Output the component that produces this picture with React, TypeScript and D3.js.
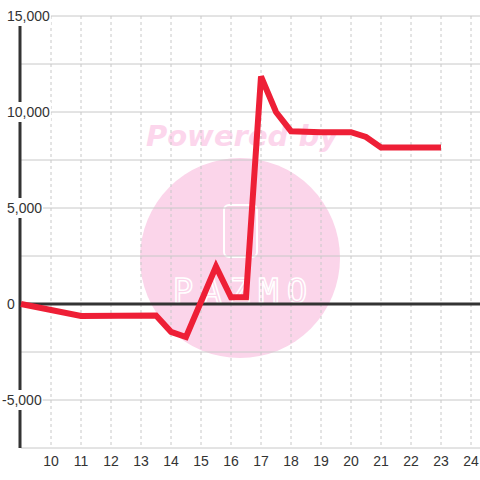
import React from "react";
import * as d3 from "d3";

const xValues = [9, 11, 13.5, 14, 14.5, 15.5, 16, 16.5, 17, 17.5, 18, 19, 20, 20.5, 21, 23];
const yValues = [0, -620, -600, -1450, -1720, 1950, 350, 350, 11850, 10000, 9000, 8950, 8950, 8700, 8150, 8150];
const xTicks = [10, 11, 12, 13, 14, 15, 16, 17, 18, 19, 20, 21, 22, 23, 24];
const yLabelTicks = [15000, 10000, 5000, 0, -5000];
const yGridTicks = [15000, 12500, 10000, 7500, 5000, 2500, -2500, -5000, -7500];

const W = 480;
const H = 480;

export default function App() {
  const x = d3.scaleLinear().domain([9, 24]).range([21, 471]);
  const y = d3.scaleLinear().domain([-7500, 15000]).range([448, 16]);
  const fmt = d3.format(",");
  const data = xValues.map((v, i) => [v, yValues[i]] as [number, number]);
  const line = d3
    .line<[number, number]>()
    .x((d) => x(d[0]))
    .y((d) => y(d[1]));

  const font = "'Liberation Sans', Arial, sans-serif";

  return (
    <svg
      width={W}
      height={H}
      style={{ position: "absolute", left: 0, top: 0, background: "#fff" }}
    >
      <rect x={0} y={0} width={W} height={H} fill="#fff" />
      {/* watermark */}
      <g>
        <circle cx={240} cy={258} r={100} fill="#fbd5ea" />
        <text
          x={242}
          y={146}
          textAnchor="middle"
          fontFamily="'DejaVu Sans', sans-serif"
          fontWeight="bold"
          fontStyle="italic"
          fontSize={29}
          fill="#fcd6ec"
        >
          Powered by
        </text>
        <rect x={224} y={205} width={33} height={52} rx={5} fill="none" stroke="#fff" strokeWidth={2} />
        <text
          x={244}
          y={303}
          textAnchor="middle"
          fontFamily="'DejaVu Sans Mono', monospace"
          fontSize={34}
          fill="none"
          stroke="#fff"
          strokeWidth={1.5}
          letterSpacing={8}
        >
          PAZMO
        </text>
      </g>
      {/* horizontal grid */}
      {yGridTicks.map((t) => (
        <line key={"h" + t} x1={21} x2={W} y1={y(t)} y2={y(t)} stroke="#c8c8c8" strokeWidth={1} />
      ))}
      {/* vertical grid */}
      {xTicks.map((t) => (
        <line
          key={"v" + t}
          x1={x(t)}
          x2={x(t)}
          y1={16}
          y2={448}
          stroke="#c8c8c8"
          strokeWidth={1}
          strokeDasharray="3,3"
        />
      ))}
      {/* y axis */}
      <line x1={20} x2={20} y1={24} y2={448} stroke="#333" strokeWidth={3} />
      {/* zero line */}
      <line x1={20} x2={W} y1={y(0)} y2={y(0)} stroke="#333" strokeWidth={3} />
      {/* data line */}
      <path
        d={line(data) || ""}
        fill="none"
        stroke="#ee1f36"
        strokeWidth={6}
        strokeLinejoin="miter"
      />
      {/* y labels */}
      {yLabelTicks.map((t) => {
        const label = fmt(t).replace("−", "-");
        const tx = t < 0 ? 2 : 7;
        const w = label.length * 7.8 - (label.includes(",") ? 3.9 : 0) - (t < 0 ? 3.2 : 0);
        return (
          <g key={"yl" + t}>
            <rect x={tx - 1} y={y(t) - 10} width={w + 2} height={20} fill="#fff" />
            <text
              x={tx}
              y={y(t) + 5}
              fontFamily={font}
              fontSize={14}
              fill="#333"
            >
              {label}
            </text>
          </g>
        );
      })}
      {/* x labels */}
      {xTicks.map((t) => (
        <text
          key={"xl" + t}
          x={x(t)}
          y={466}
          textAnchor="middle"
          fontFamily={font}
          fontSize={14}
          fill="#333"
        >
          {t}
        </text>
      ))}
    </svg>
  );
}
